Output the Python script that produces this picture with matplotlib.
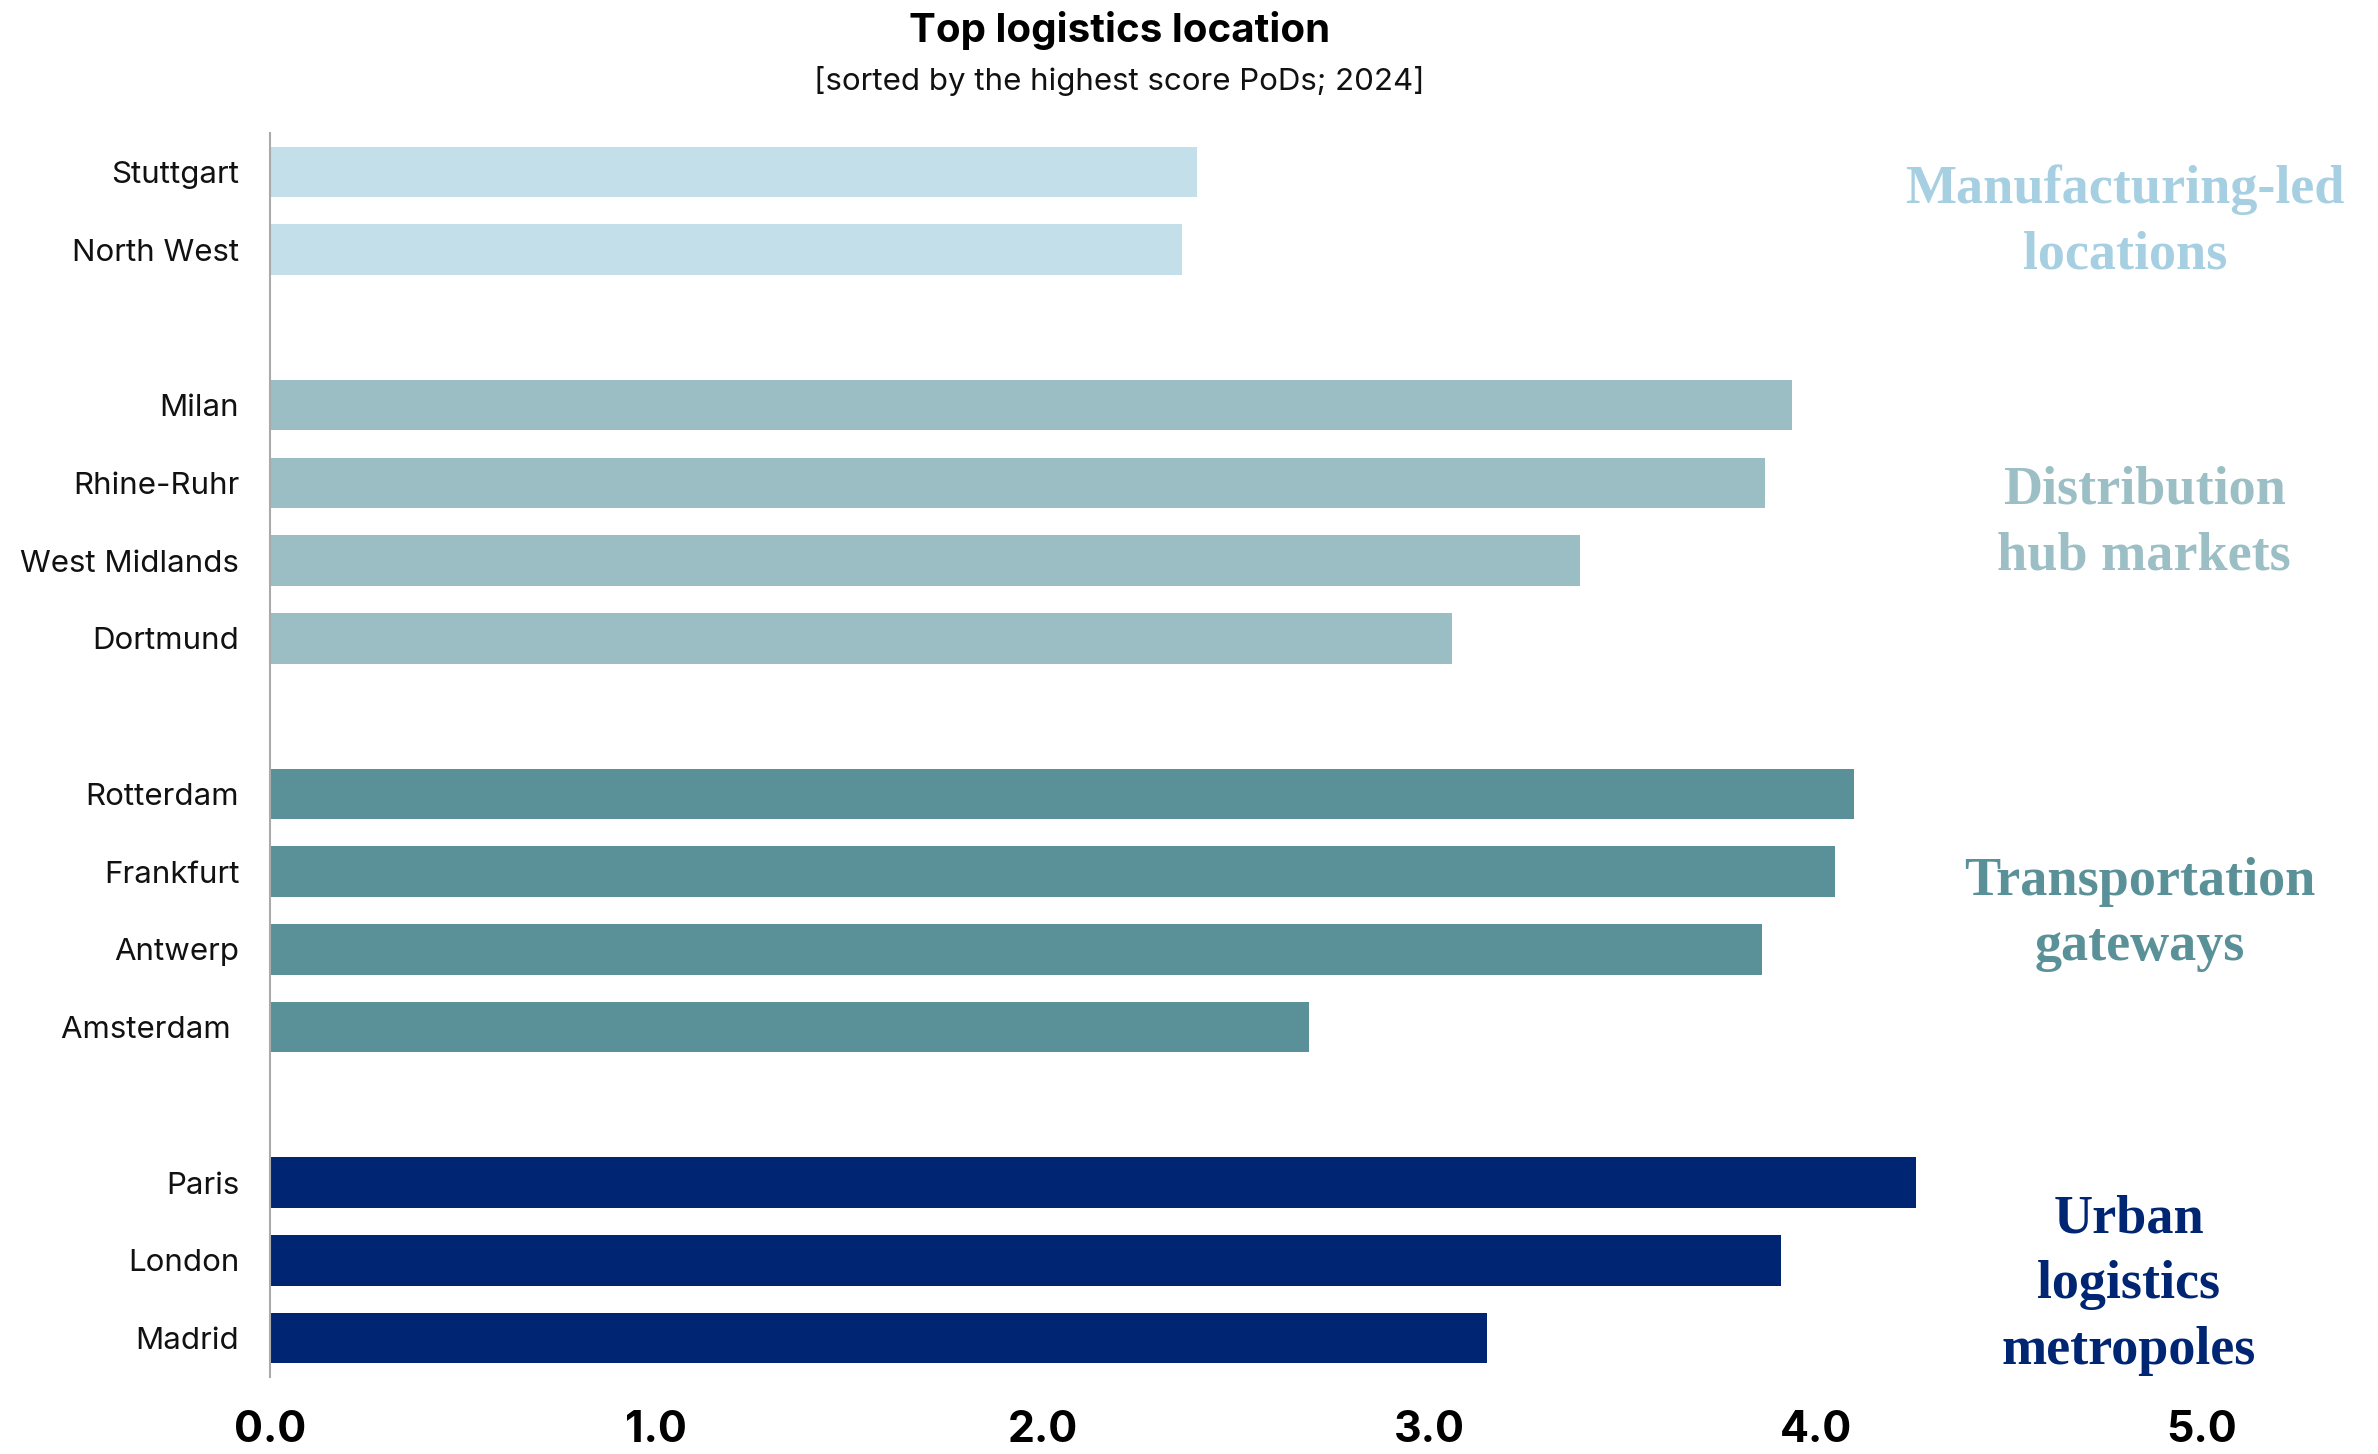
import matplotlib
matplotlib.use("Agg")
import matplotlib.pyplot as plt

# ---- data ----
locations = ["Stuttgart", "North West",
             "Milan", "Rhine-Ruhr", "West Midlands", "Dortmund",
             "Rotterdam", "Frankfurt", "Antwerp", "Amsterdam ",
             "Paris", "London", "Madrid"]
scores = [2.40, 2.36,
          3.94, 3.87, 3.39, 3.06,
          4.10, 4.05, 3.86, 2.69,
          4.26, 3.91, 3.15]
group_sizes = [2, 4, 4, 3]
group_names = ["Manufacturing-led\nlocations", "Distribution\nhub markets",
               "Transportation\ngateways", "Urban\nlogistics\nmetropoles"]
bar_colors = ["#C2DFEA", "#9BBEC4", "#5A9198", "#002673"]
text_colors = ["#A6D0E2", "#9BBFC5", "#5A9198", "#002673"]
xticks = [0.0, 1.0, 2.0, 3.0, 4.0, 5.0]
xtick_labels = ["0.0", "1.0", "2.0", "3.0", "4.0", "5.0"]

title = "Top logistics location"
subtitle = "[sorted by the highest score PoDs; 2024]"

# ---- positions (one blank slot between groups) ----
ypos, colors, group_centers = [], [], []
slot = 0
for g, n in enumerate(group_sizes):
    ys = list(range(slot, slot + n))
    ypos += ys
    colors += [bar_colors[g]] * n
    group_centers.append((ys[0] + ys[-1]) / 2)
    slot += n + 1

fig = plt.figure(figsize=(23.78, 14.54), dpi=100)
ax = fig.add_axes([0.1135, 0.053, 0.8125, 0.8555])

ax.barh(ypos, scores, height=0.65, color=colors)
ax.set_ylim(max(ypos) + 0.5, -0.5)
ax.set_xlim(0, 5)
ax.set_yticks(ypos)
ax.set_yticklabels(locations, fontsize=22.5, family="Inter", color="#111111")
ax.set_xticks(xticks)
ax.set_xticklabels(xtick_labels, fontsize=31, family="Inter", fontweight="bold", color="#000000")
ax.tick_params(axis="y", length=0, pad=22)
ax.tick_params(axis="x", length=0, pad=24)
for s in ["top", "right", "bottom"]:
    ax.spines[s].set_visible(False)
ax.spines["left"].set_color("#AAAAAA")
ax.spines["left"].set_linewidth(1.5)

# group labels
gx = [4.80, 4.85, 4.84, 4.81]
gy_off = [0.15, 0.02, 0.05, 0.32]
for g, name in enumerate(group_names):
    ax.text(gx[g], group_centers[g] + gy_off[g], name, ha="center", va="center",
            fontsize=39, family="Liberation Serif", fontweight="bold",
            color=text_colors[g], linespacing=1.41, clip_on=False)

fig.text(0.4707, 0.979, title, ha="center", va="center", fontsize=29,
         family="Inter", fontweight="bold", color="#000000")
fig.text(0.4707, 0.944, subtitle, ha="center", va="center", fontsize=22.5,
         family="Inter", color="#111111")

fig.savefig("out.png", dpi=100, facecolor="white")
